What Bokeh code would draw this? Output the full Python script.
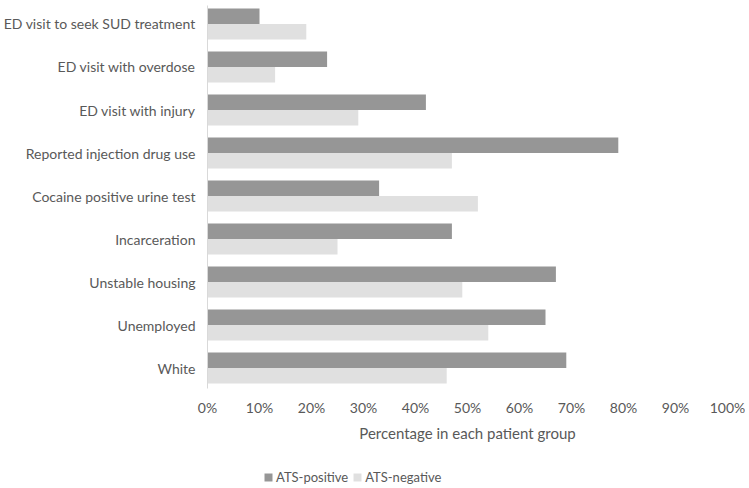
from bokeh.plotting import figure
from bokeh.layouts import column
from bokeh.models import Range1d, FixedTicker, Legend, LegendItem, PrintfTickFormatter, ColumnDataSource
from bokeh.embed import file_html
from bokeh.resources import INLINE

categories = ["White", "Unemployed", "Unstable housing", "Incarceration",
              "Cocaine positive urine test", "Reported injection drug use",
              "ED visit with injury", "ED visit with overdose",
              "ED visit to seek SUD treatment"]
ats_positive = [69, 65, 67, 47, 33, 79, 42, 23, 10]
ats_negative = [46, 54, 49, 25, 52, 47, 29, 13, 19]
series_names = ["ATS-positive", "ATS-negative"]
x_ticks = [0, 10, 20, 30, 40, 50, 60, 70, 80, 90, 100]

DARK = "#969696"
LIGHT = "#e0e0e0"
TXT = "#595959"
FONT = "Lato"

idx = list(range(len(categories)))
src = ColumnDataSource(dict(
    y_pos=[i + 0.18 for i in idx],
    y_neg=[i - 0.18 for i in idx],
    pos=ats_positive, neg=ats_negative))

p = figure(width=745, height=446, output_backend="svg", toolbar_location=None,
           x_range=Range1d(0, 100), y_range=Range1d(-0.476, 8.43),
           min_border_left=200, min_border_right=18, min_border_top=5, min_border_bottom=58)
p.outline_line_color = None
p.xgrid.visible = False
p.ygrid.visible = False

p.hbar(y="y_pos", right="pos", left=0, height=0.36, source=src, fill_color=DARK, line_color=None)
p.hbar(y="y_neg", right="neg", left=0, height=0.36, source=src, fill_color=LIGHT, line_color=None)

p.yaxis.ticker = FixedTicker(ticks=idx)
p.yaxis.major_label_overrides = {i: c for i, c in zip(idx, categories)}
p.yaxis.major_tick_line_color = None
p.yaxis.minor_tick_line_color = None
p.yaxis.axis_line_color = "#d9d9d9"
p.yaxis.major_label_text_font = FONT
p.yaxis.major_label_text_font_size = "14px"
p.yaxis.major_label_text_color = TXT
p.yaxis.major_label_standoff = 6

p.xaxis.ticker = FixedTicker(ticks=x_ticks)
p.xaxis.formatter = PrintfTickFormatter(format="%d%%")
p.xaxis.major_tick_line_color = None
p.xaxis.minor_tick_line_color = None
p.xaxis.axis_line_color = None
p.xaxis.major_label_text_font = FONT
p.xaxis.major_label_text_font_size = "14px"
p.xaxis.major_label_text_color = TXT
p.xaxis.major_label_standoff = 4
p.xaxis.axis_label = "Percentage in each patient group"
p.xaxis.axis_label_text_font = FONT
p.xaxis.axis_label_text_font_size = "15px"
p.xaxis.axis_label_text_font_style = "normal"
p.xaxis.axis_label_text_color = TXT
p.xaxis.axis_label_standoff = 5

# legend strip below the chart (bars drawn out of view; only the legend shows)
lg = figure(width=745, height=40, output_backend="svg", toolbar_location=None,
            x_axis_type=None, y_axis_type=None,
            x_range=Range1d(0, 100), y_range=Range1d(1000, 1001),
            min_border_left=0, min_border_right=0, min_border_top=0, min_border_bottom=0)
lg.outline_line_color = None
lg.xgrid.visible = False
lg.ygrid.visible = False
lr1 = lg.hbar(y="y_pos", right="pos", left=0, height=0.36, source=src, fill_color=DARK, line_color=None)
lr2 = lg.hbar(y="y_neg", right="neg", left=0, height=0.36, source=src, fill_color=LIGHT, line_color=None)
legend = Legend(items=[LegendItem(label=series_names[0], renderers=[lr1], index=0),
                       LegendItem(label=series_names[1], renderers=[lr2], index=0)],
                location=(56, 1), orientation="horizontal",
                glyph_width=10, glyph_height=10, padding=0, margin=0, spacing=4,
                label_standoff=3, label_text_font=FONT, label_text_font_size="13px",
                label_text_color=TXT, border_line_color=None, background_fill_alpha=0)
lg.add_layout(legend, "center")

layout = column(p, lg, spacing=0)
open("out.html", "w").write(file_html(layout, INLINE))
